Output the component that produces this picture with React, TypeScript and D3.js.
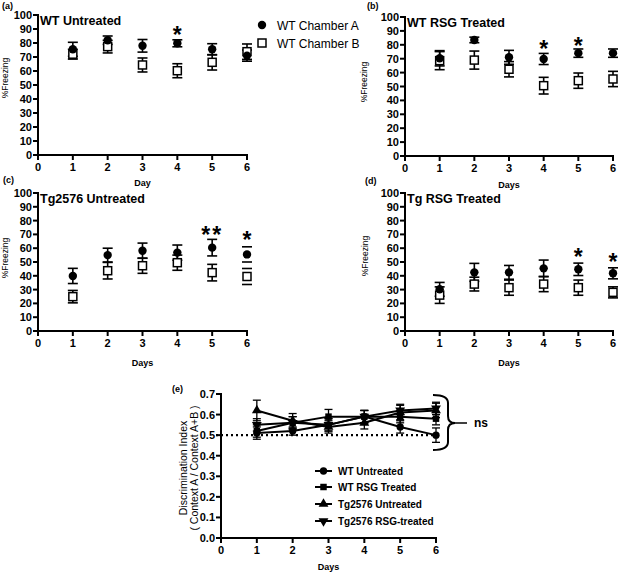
import React from 'react';
import * as d3 from 'd3';

const days = [1, 2, 3, 4, 5, 6];
const xTicks = [0, 1, 2, 3, 4, 5, 6];
const pctTicks = [0, 10, 20, 30, 40, 50, 60, 70, 80, 90, 100];
const diTicks = [0, 0.1, 0.2, 0.3, 0.4, 0.5, 0.6, 0.7];

// (a) WT Untreated
const aChamberA = [75.5, 82, 78, 79.8, 75.5, 71];
const aChamberAErr = [5, 3, 4.5, 2.5, 4, 4];
const aChamberB = [72, 77.4, 64.3, 60.2, 66.2, 73.8];
const aChamberBErr = [3.5, 4.5, 5, 5, 5.5, 5.5];
const aStars = [{ day: 4, v: 89, t: '*' }];

// (b) WT RSG Treated
const bChamberA = [70.3, 83.5, 71, 69.8, 74, 74];
const bChamberAErr = [5.5, 2, 5, 4, 3, 3];
const bChamberB = [68.6, 69, 62.4, 50.6, 54.2, 55.4];
const bChamberBErr = [6.5, 6.5, 5.5, 6, 5.5, 5.5];
const bStars = [{ day: 4, v: 80.6, t: '*' }, { day: 5, v: 83, t: '*' }];

// (c) Tg2576 Untreated
const cChamberA = [39.9, 55, 58.2, 56.8, 60.4, 55.5];
const cChamberAErr = [5.5, 5, 5.5, 5.5, 6, 5.5];
const cChamberB = [24.9, 43.7, 47.3, 49.5, 42.3, 39.5];
const cChamberBErr = [4.5, 6, 5.5, 5.5, 6, 5.8];
const cStars = [{ day: 5, v: 73, t: '**' }, { day: 6, v: 69.6, t: '*' }];
const cHiddenStemDays = [6];

// (d) Tg RSG Treated
const dChamberA = [30.2, 42.5, 42.5, 45.4, 44.7, 41.8];
const dChamberAErr = [5, 6.5, 5, 6, 4.5, 4];
const dChamberB = [26, 34, 31.4, 34, 31.4, 28];
const dChamberBErr = [6, 5, 5.5, 5.5, 5.5, 4];
const dStars = [{ day: 5, v: 57.5, t: '*' }, { day: 6, v: 53.8, t: '*' }];

// (e) Discrimination index
const eWtUntreated = [0.51, 0.52, 0.55, 0.59, 0.54, 0.5];
const eWtUntreatedErr = [0.03, 0.02, 0.03, 0.03, 0.03, 0.035];
const eWtRsg = [0.52, 0.56, 0.59, 0.59, 0.59, 0.58];
const eWtRsgErr = [0.03, 0.03, 0.035, 0.03, 0.03, 0.03];
const eTgUntreated = [0.62, 0.57, 0.54, 0.56, 0.61, 0.62];
const eTgUntreatedErr = [0.05, 0.035, 0.03, 0.03, 0.035, 0.035];
const eTgRsg = [0.55, 0.56, 0.55, 0.59, 0.62, 0.63];
const eTgRsgErr = [0.03, 0.03, 0.03, 0.03, 0.03, 0.03];
const eSeriesNames = ['WT Untreated', 'WT RSG Treated', 'Tg2576 Untreated', 'Tg2576 RSG-treated'];

const FONT = '"Liberation Sans", Arial, Helvetica, sans-serif';

type Star = { day: number; v: number; t: string };

function Panel(props: {
  x0: number; x1: number; yTop: number; yBot: number;
  label: string; labelX: number; labelY: number;
  title: string; xTitle: string; xTitleY: number;
  yTitleX: number; yTitleY: number;
  A: number[]; Aerr: number[]; B: number[]; Berr: number[];
  stars: Star[]; hiddenStems?: number[];
}) {
  const p = props;
  const x = d3.scaleLinear().domain([0, 6]).range([p.x0, p.x1]);
  const y = d3.scaleLinear().domain([0, 100]).range([p.yBot, p.yTop]);
  const hidden = p.hiddenStems || [];
  const errBar = (vals: number[], errs: number[], key: string) =>
    days.map((d, i) => {
      const cx = x(d);
      const t = y(vals[i] + errs[i]);
      const b = y(vals[i] - errs[i]);
      return (
        <g key={key + i} stroke="#000" strokeWidth={1.6}>
          {hidden.includes(d) ? null : <line x1={cx} x2={cx} y1={t} y2={b} />}
          <line x1={cx - 5} x2={cx + 5} y1={t} y2={t} />
          <line x1={cx - 5} x2={cx + 5} y1={b} y2={b} />
        </g>
      );
    });
  return (
    <g fontFamily={FONT}>
      <text x={p.labelX} y={p.labelY} fontSize={9} fontWeight="bold">{p.label}</text>
      <line x1={p.x0} x2={p.x0} y1={p.yTop - 1} y2={p.yBot + 1} stroke="#000" strokeWidth={2} />
      <line x1={p.x0 - 1} x2={p.x1 + 1} y1={p.yBot} y2={p.yBot} stroke="#000" strokeWidth={2} />
      {pctTicks.map((t) => (
        <g key={'yt' + t}>
          <line x1={p.x0 - 5} x2={p.x0} y1={y(t)} y2={y(t)} stroke="#000" strokeWidth={2} />
          <text x={p.x0 - 6} y={y(t) + 4} fontSize={11} fontWeight="bold" textAnchor="end">{t}</text>
        </g>
      ))}
      {xTicks.map((t) => (
        <g key={'xt' + t}>
          <line x1={x(t)} x2={x(t)} y1={p.yBot} y2={p.yBot + 5} stroke="#000" strokeWidth={2} />
          <text x={x(t)} y={p.yBot + 16} fontSize={11} fontWeight="bold" textAnchor="middle">{t}</text>
        </g>
      ))}
      <text x={(p.x0 + p.x1) / 2} y={p.xTitleY} fontSize={9} fontWeight="bold" textAnchor="middle">{p.xTitle}</text>
      <text transform={`translate(${p.yTitleX},${p.yTitleY}) rotate(-90)`} fontSize={8.5} textAnchor="middle" dy="0.35em">%Freezing</text>
      <text x={p.x0 + 2} y={p.yTop + 10} fontSize={12.5} fontWeight="bold">{p.title}</text>
      {errBar(p.A, p.Aerr, 'ea')}
      {errBar(p.B, p.Berr, 'eb')}
      {days.map((d, i) => (
        <rect key={'sq' + i} x={x(d) - 4} y={y(p.B[i]) - 4} width={8} height={8} fill="#fff" stroke="#000" strokeWidth={1.5} />
      ))}
      {days.map((d, i) => (
        <circle key={'ci' + i} cx={x(d)} cy={y(p.A[i])} r={4.2} fill="#000" />
      ))}
      {p.stars.map((s, i) => (
        <text key={'st' + i} x={x(s.day)} y={y(s.v) + 13} fontSize={23} fontWeight="bold" textAnchor="middle" letterSpacing={s.t.length > 1 ? 2 : 0}>{s.t}</text>
      ))}
    </g>
  );
}

function PanelE() {
  const x = d3.scaleLinear().domain([0, 6]).range([221, 436]);
  const y = d3.scaleLinear().domain([0, 0.7]).range([538, 394]);
  const series = [
    { vals: eWtUntreated, errs: eWtUntreatedErr, sym: d3.symbolCircle, rot: 0, size: 42 },
    { vals: eWtRsg, errs: eWtRsgErr, sym: d3.symbolSquare, rot: 0, size: 42 },
    { vals: eTgUntreated, errs: eTgUntreatedErr, sym: d3.symbolTriangle, rot: 0, size: 42 },
    { vals: eTgRsg, errs: eTgRsgErr, sym: d3.symbolTriangle, rot: 180, size: 42 },
  ];
  const line = d3.line<number>().x((_, i) => x(days[i])).y((v) => y(v));
  const legendY = [471, 487, 504, 521];
  return (
    <g fontFamily={FONT}>
      <text x={172} y={392} fontSize={9} fontWeight="bold">(e)</text>
      <line x1={x(0) - 5} x2={x(6)} y1={y(0.5)} y2={y(0.5)} stroke="#000" strokeWidth={2.2} strokeDasharray="2,3" />
      <line x1={x(0)} x2={x(0)} y1={y(0.7) - 1} y2={y(0) + 1} stroke="#000" strokeWidth={2} />
      <line x1={x(0) - 1} x2={x(6) + 1} y1={y(0)} y2={y(0)} stroke="#000" strokeWidth={2} />
      {diTicks.map((t) => (
        <g key={'yt' + t}>
          <line x1={x(0) - 5} x2={x(0)} y1={y(t)} y2={y(t)} stroke="#000" strokeWidth={2} />
          <text x={x(0) - 6} y={y(t) + 4} fontSize={11} fontWeight="bold" textAnchor="end">{t.toFixed(1)}</text>
        </g>
      ))}
      {xTicks.map((t) => (
        <g key={'xt' + t}>
          <line x1={x(t)} x2={x(t)} y1={y(0)} y2={y(0) + 5} stroke="#000" strokeWidth={2} />
          <text x={x(t)} y={y(0) + 16} fontSize={11} fontWeight="bold" textAnchor="middle">{t}</text>
        </g>
      ))}
      <text x={(x(0) + x(6)) / 2} y={570} fontSize={9} fontWeight="bold" textAnchor="middle">Days</text>
      <text transform="translate(183,468) rotate(-90)" fontSize={10.5} textAnchor="middle" dy="0.35em">Discrimination Index</text>
      <text transform="translate(194,468) rotate(-90)" fontSize={10.5} textAnchor="middle" dy="0.35em">( Context A / Context A+B )</text>
      {series.map((s, k) => (
        <g key={'s' + k}>
          {days.map((d, i) => {
            const cx = x(d);
            const t = y(s.vals[i] + s.errs[i]);
            const b = y(s.vals[i] - s.errs[i]);
            return (
              <g key={i} stroke="#000" strokeWidth={1.3}>
                <line x1={cx} x2={cx} y1={t} y2={b} />
                <line x1={cx - 4} x2={cx + 4} y1={t} y2={t} />
                <line x1={cx - 4} x2={cx + 4} y1={b} y2={b} />
              </g>
            );
          })}
          <path d={line(s.vals) || ''} fill="none" stroke="#000" strokeWidth={2} />
          {days.map((d, i) => (
            <path key={'m' + i} d={d3.symbol().type(s.sym).size(s.size)() || ''} transform={`translate(${x(d)},${y(s.vals[i])}) rotate(${s.rot})`} fill="#000" />
          ))}
        </g>
      ))}
      <path d="M433,395 Q448,395 448,403 L448,416 Q448,423 455,423 Q448,423 448,430 L448,442 Q448,450 433,450" fill="none" stroke="#000" strokeWidth={2} />
      <line x1={455} x2={467} y1={423} y2={423} stroke="#000" strokeWidth={1.5} />
      <text x={474} y={427} fontSize={12} fontWeight="bold">ns</text>
      {series.map((s, k) => (
        <g key={'lg' + k}>
          <line x1={315} x2={332} y1={legendY[k]} y2={legendY[k]} stroke="#000" strokeWidth={2} />
          <path d={d3.symbol().type(s.sym).size(s.size)() || ''} transform={`translate(323.5,${legendY[k]}) rotate(${s.rot})`} fill="#000" />
          <text x={338} y={legendY[k] + 3.5} fontSize={10} fontWeight="bold">{eSeriesNames[k]}</text>
        </g>
      ))}
    </g>
  );
}

export default function App() {
  return (
    <svg width={619} height={572} style={{ position: 'absolute', left: 0, top: 0, background: '#fff' }}>
      <rect width={619} height={572} fill="#fff" />
      <Panel x0={38} x1={247} yTop={15} yBot={155} label="(a)" labelX={2} labelY={9}
        title="WT Untreated" xTitle="Day" xTitleY={186} yTitleX={5.5} yTitleY={78}
        A={aChamberA} Aerr={aChamberAErr} B={aChamberB} Berr={aChamberBErr} stars={aStars} />
      <Panel x0={405} x1={613} yTop={17} yBot={156} label="(b)" labelX={367} labelY={9}
        title="WT RSG Treated" xTitle="Days" xTitleY={188} yTitleX={364} yTitleY={82}
        A={bChamberA} Aerr={bChamberAErr} B={bChamberB} Berr={bChamberBErr} stars={bStars} />
      <Panel x0={38} x1={247} yTop={193} yBot={331} label="(c)" labelX={3} labelY={183}
        title="Tg2576 Untreated" xTitle="Days" xTitleY={366} yTitleX={5.5} yTitleY={258}
        A={cChamberA} Aerr={cChamberAErr} B={cChamberB} Berr={cChamberBErr} stars={cStars} hiddenStems={cHiddenStemDays} />
      <Panel x0={405} x1={613} yTop={193} yBot={331} label="(d)" labelX={365} labelY={184}
        title="Tg RSG Treated" xTitle="Days" xTitleY={366} yTitleX={365} yTitleY={256}
        A={dChamberA} Aerr={dChamberAErr} B={dChamberB} Berr={dChamberBErr} stars={dStars} />
      <g fontFamily={FONT}>
        <circle cx={262} cy={25} r={4.2} fill="#000" />
        <text x={277} y={29.5} fontSize={12}>WT Chamber A</text>
        <rect x={258} y={39} width={8} height={8} fill="#fff" stroke="#000" strokeWidth={1.5} />
        <text x={277} y={47.5} fontSize={12}>WT Chamber B</text>
      </g>
      <PanelE />
    </svg>
  );
}
